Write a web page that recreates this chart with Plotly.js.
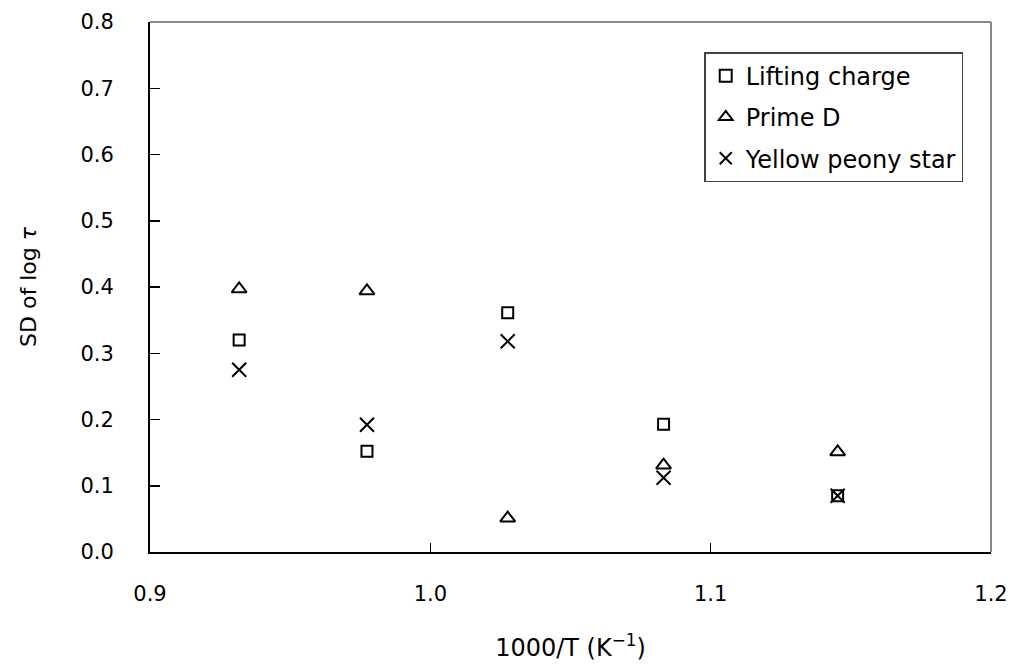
<!DOCTYPE html>
<html>
<head>
<meta charset="utf-8">
<script src="https://cdn.plot.ly/plotly-3.0.1.min.js"></script>
<style>html,body{margin:0;padding:0;background:#fff;}#chart{width:1009px;height:664px;}</style>
</head>
<body>
<div id="chart"></div>
<script>
const invT = [0.9318, 0.9774, 1.0276, 1.0832, 1.1453];
const seriesNames = ["Lifting charge", "Prime D", "Yellow peony star"];
const liftingCharge = [0.320, 0.152, 0.361, 0.193, 0.085];
const primeD = [0.397, 0.394, 0.051, 0.131, 0.151];
const yellowPeonyStar = [0.275, 0.192, 0.318, 0.112, 0.085];
const xTickVals = [0.9, 1.0, 1.1, 1.2];
const xTickText = ["0.9", "1.0", "1.1", "1.2"];
const yTickVals = [0, 0.1, 0.2, 0.3, 0.4, 0.5, 0.6, 0.7, 0.8];
const yTickText = ["0.0", "0.1", "0.2", "0.3", "0.4", "0.5", "0.6", "0.7", "0.8"];

const FONT = "'DejaVu Sans', 'Liberation Sans', sans-serif";
const traces = [
  {x: invT, y: liftingCharge, name: seriesNames[0], legendgroup: 'a', mode: 'markers', type: 'scatter',
   marker: {symbol: 'square-open', size: 11, color: '#000', line: {width: 2, color: '#000'}}},
  {x: invT, y: primeD, name: seriesNames[1], legendgroup: 'b', mode: 'markers', type: 'scatter',
   marker: {symbol: 'triangle-up-open', size: 13, color: '#000', line: {width: 2, color: '#000'}}},
  {x: invT, y: yellowPeonyStar, name: seriesNames[2], legendgroup: 'c', mode: 'markers', type: 'scatter',
   marker: {symbol: 'x-thin-open', size: 14, color: '#000', line: {width: 2, color: '#000'}}}
];
const layout = {
  width: 1009, height: 664,
  margin: {l: 150, r: 18, t: 22, b: 112},
  paper_bgcolor: '#fff', plot_bgcolor: '#fff',
  font: {family: FONT, color: '#000', size: 21},
  showlegend: true,
  legend: {x: 0.659, y: 0.943, xanchor: 'left', yanchor: 'top',
    bgcolor: '#fff', bordercolor: '#444', borderwidth: 1.5,
    font: {family: FONT, size: 24, color: '#000'},
    itemsizing: 'constant', traceorder: 'grouped', tracegroupgap: 7, itemwidth: 30},
  xaxis: {range: [0.9, 1.2], tickvals: xTickVals, ticktext: xTickText,
    ticks: 'inside', ticklen: 9, tickwidth: 1.5, tickcolor: '#000',
    showline: true, linecolor: '#000', linewidth: 2, mirror: false,
    showgrid: false, zeroline: false, ticklabelstandoff: 22,
    tickfont: {family: FONT, size: 21, color: '#000'},
    title: {text: '1000/T (K<sup>−1</sup>)', font: {family: FONT, size: 24, color: '#000'}, standoff: 34}},
  yaxis: {range: [0, 0.8], tickvals: yTickVals, ticktext: yTickText,
    ticks: 'inside', ticklen: 10, tickwidth: 1.5, tickcolor: '#000',
    showline: true, linecolor: '#000', linewidth: 2, mirror: false,
    showgrid: false, zeroline: false, ticklabelstandoff: 30,
    tickfont: {family: FONT, size: 21, color: '#000'},
    title: {text: 'SD of log <i>τ</i>', font: {family: FONT, size: 22, color: '#000'}, standoff: 38}},
  shapes: [
    {type: 'line', xref: 'paper', yref: 'paper', x0: 0, x1: 1, y0: 1, y1: 1, line: {color: '#888', width: 2}},
    {type: 'line', xref: 'paper', yref: 'paper', x0: 1, x1: 1, y0: 0, y1: 1, line: {color: '#888', width: 2}}
  ]
};
Plotly.newPlot('chart', traces, layout, {displayModeBar: false, staticPlot: true});
</script>
</body>
</html>
